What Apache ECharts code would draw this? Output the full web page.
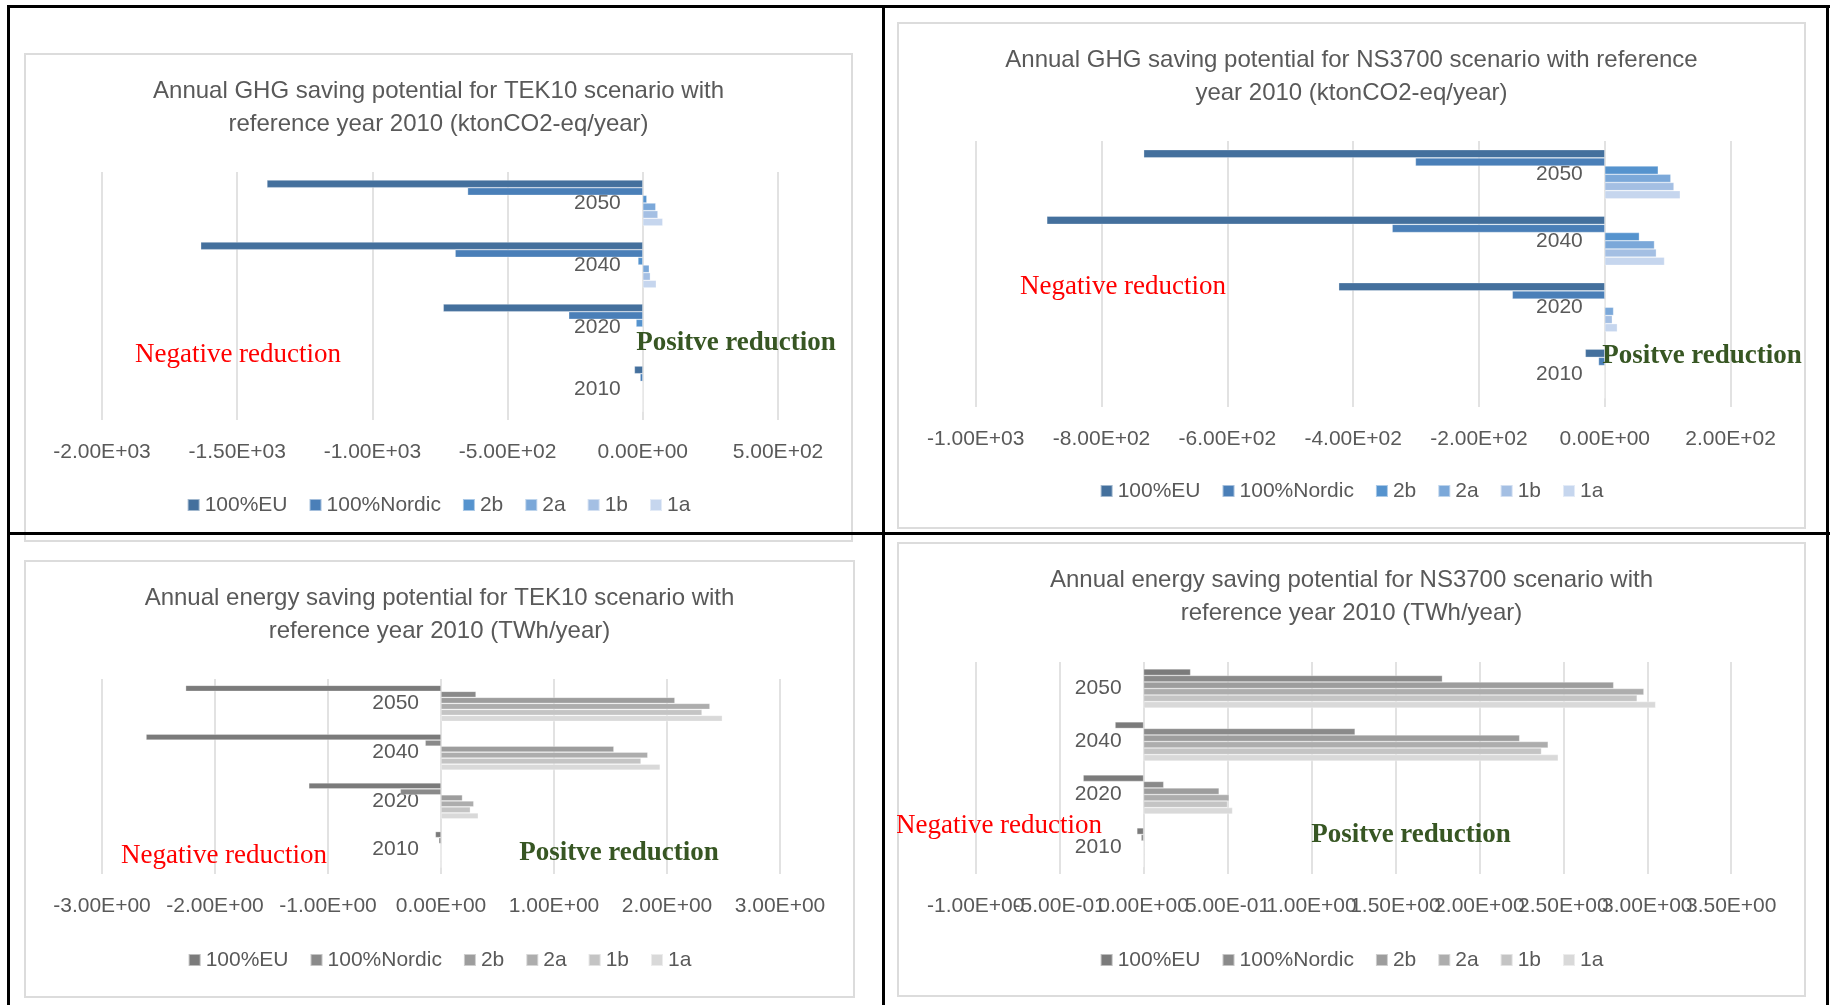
<!DOCTYPE html>
<html>
<head>
<meta charset="utf-8">
<script src="https://cdn.jsdelivr.net/npm/echarts@6/dist/echarts.min.js"></script>
<style>
  html, body { margin: 0; padding: 0; background: #fff; }
  body { width: 1836px; height: 1005px; position: relative; overflow: hidden; }
  .box { position: absolute; border: 2px solid #dcdcdc; box-sizing: border-box; }
  .chart { position: absolute; }
  .line { position: absolute; background: #000; z-index: 10; }
</style>
</head>
<body>
<div class="line" style="left:7px;top:5px;width:1823px;height:3px"></div>
<div class="line" style="left:7px;top:5px;width:3px;height:1000px"></div>
<div class="line" style="left:1826px;top:5px;width:3px;height:1000px"></div>
<div class="line" style="left:882px;top:5px;width:3px;height:1000px"></div>
<div class="line" style="left:7px;top:532px;width:1823px;height:3px"></div>
<script>
// ---- data ----
const categories = ['2050', '2040', '2020', '2010'];
const seriesNames = ['100%EU', '100%Nordic', '2b', '2a', '1b', '1a'];

// Annual GHG saving potential, TEK10 (ktonCO2-eq/year)
const ghgTek10_EU     = [-1390, -1635, -738, -31];
const ghgTek10_Nordic = [-648, -694, -274, -10];
const ghgTek10_2b     = [15, -18, -25, 0];
const ghgTek10_2a     = [48, 24, -2, 0];
const ghgTek10_1b     = [56, 28, 1, 0];
const ghgTek10_1a     = [74, 50, 2, 0];

// Annual GHG saving potential, NS3700 (ktonCO2-eq/year)
const ghgNs_EU     = [-733, -887, -423, -31];
const ghgNs_Nordic = [-301, -338, -147, -10];
const ghgNs_2b     = [85, 55, 0, 0];
const ghgNs_2a     = [105, 79, 14, 0];
const ghgNs_1b     = [110, 82, 12, 0];
const ghgNs_1a     = [120, 95, 20, 0];

// Annual energy saving potential, TEK10 (TWh/year)
const enTek10_EU     = [-2.26, -2.61, -1.17, -0.05];
const enTek10_Nordic = [0.31, -0.14, -0.36, -0.02];
const enTek10_2b     = [2.07, 1.53, 0.19, 0];
const enTek10_2a     = [2.38, 1.83, 0.29, 0];
const enTek10_1b     = [2.31, 1.77, 0.26, 0];
const enTek10_1a     = [2.49, 1.94, 0.33, 0];

// Annual energy saving potential, NS3700 (TWh/year)
const enNs_EU     = [0.28, -0.17, -0.36, -0.04];
const enNs_Nordic = [1.78, 1.26, 0.12, -0.015];
const enNs_2b     = [2.80, 2.24, 0.45, 0];
const enNs_2a     = [2.98, 2.41, 0.51, 0];
const enNs_1b     = [2.94, 2.37, 0.50, 0];
const enNs_1a     = [3.05, 2.47, 0.53, 0];

// axis ranges (min, max, interval)
const axisGhgTek10 = [-2000, 500, 500];
const axisGhgNs    = [-1000, 200, 200];
const axisEnTek10  = [-3, 3, 1];
const axisEnNs     = [-1, 3.5, 0.5];

const titles = [
  'Annual GHG saving potential for TEK10 scenario with\nreference year 2010 (ktonCO2-eq/year)',
  'Annual GHG saving potential for NS3700 scenario with reference\nyear 2010 (ktonCO2-eq/year)',
  'Annual energy saving potential for TEK10 scenario with\nreference year 2010 (TWh/year)',
  'Annual energy saving potential for NS3700 scenario with\nreference year 2010 (TWh/year)'
];
const negText = 'Negative reduction';
const posText = 'Positve reduction';

// ---- styles / layout ----
const blues = ['#44709d', '#4a7fb8', '#5593ce', '#7ba8d9', '#a4bfe3', '#c6d6ee'];
const grays = ['#7b7b7b', '#8a8a8a', '#9d9d9d', '#adadad', '#c4c4c4', '#d9d9d9'];
const TXT = '#595959';
const FONT = '"Liberation Sans", Arial, sans-serif';

const panels = [
  { rect: [24, 53, 829, 489], grid: [78, 75, 119, 122], legendY: 452, neg: [214, 302], pos: [712, 290],
    axis: axisGhgTek10, colors: blues, title: titles[0],
    data: [ghgTek10_EU, ghgTek10_Nordic, ghgTek10_2b, ghgTek10_2a, ghgTek10_1b, ghgTek10_1a] },
  { rect: [897, 22, 909, 507], grid: [78.7, 75.4, 119, 122], legendY: 469, neg: [226, 265], pos: [805, 334],
    axis: axisGhgNs, colors: blues, title: titles[1],
    data: [ghgNs_EU, ghgNs_Nordic, ghgNs_2b, ghgNs_2a, ghgNs_1b, ghgNs_1a] },
  { rect: [24, 560, 831, 438], grid: [78, 75, 119, 124], legendY: 400, neg: [200, 296], pos: [595, 293],
    axis: axisEnTek10, colors: grays, title: titles[2],
    data: [enTek10_EU, enTek10_Nordic, enTek10_2b, enTek10_2a, enTek10_1b, enTek10_1a] },
  { rect: [897, 542, 909, 455], grid: [78.7, 74.8, 120, 123], legendY: 418, neg: [102, 284], pos: [514, 293],
    axis: axisEnNs, colors: grays, title: titles[3],
    data: [enNs_EU, enNs_Nordic, enNs_2b, enNs_2a, enNs_1b, enNs_1a] }
];

function sci(v) {
  const s = Number(v).toExponential(2).toUpperCase();
  return s.replace(/E([+-])(\d+)$/, function (m, sign, d) {
    return 'E' + sign + (d.length < 2 ? '0' + d : d);
  });
}

function valueAxis(p, parity) {
  // two value axes sharing the grid: one labels even ticks, the other odd ticks
  return {
    type: 'value', position: 'bottom', min: p.axis[0], max: p.axis[1], interval: p.axis[2],
    axisLine: { show: false, onZero: false }, axisTick: { show: false },
    splitLine: { show: parity === 0, lineStyle: { color: '#d9d9d9', width: 1.5 } },
    axisLabel: {
      formatter: function (v) {
        const idx = Math.round((v - p.axis[0]) / p.axis[2]);
        return idx % 2 === parity ? sci(v) : '';
      },
      fontFamily: FONT, fontSize: 21, color: TXT, margin: 21.5,
      showMinLabel: true, showMaxLabel: true, hideOverlap: false
    }
  };
}

panels.forEach(function (p) {
  const box = document.createElement('div');
  box.className = 'box';
  box.style.left = p.rect[0] + 'px'; box.style.top = p.rect[1] + 'px';
  box.style.width = p.rect[2] + 'px'; box.style.height = p.rect[3] + 'px';
  document.body.appendChild(box);
  const el = document.createElement('div');
  el.className = 'chart';
  el.style.left = p.rect[0] + 'px'; el.style.top = p.rect[1] + 'px';
  el.style.width = p.rect[2] + 'px'; el.style.height = p.rect[3] + 'px';
  document.body.appendChild(el);

  const chart = echarts.init(el, null, { renderer: 'canvas' });
  chart.setOption({
    animation: false,
    color: p.colors,
    title: {
      text: p.title, left: p.rect[2] / 2, top: 21.5, padding: 0,
      textAlign: 'center',
      textStyle: { fontFamily: FONT, fontSize: 24, fontWeight: 'normal', color: TXT, lineHeight: 33 }
    },
    legend: {
      data: seriesNames, left: 'center', top: p.legendY - 10.5, padding: 0,
      icon: 'rect', itemWidth: 12, itemHeight: 12, itemGap: 21,
      textStyle: { fontFamily: FONT, fontSize: 21, color: TXT }
    },
    grid: { left: p.grid[0], right: p.grid[1], top: p.grid[2], bottom: p.grid[3], containLabel: false },
    xAxis: [valueAxis(p, 0), valueAxis(p, 1)],
    yAxis: {
      type: 'category', data: categories, inverse: true,
      axisLine: { show: false, onZero: false },
      axisTick: { show: false },
      splitLine: { show: false },
      axisLabel: { fontFamily: FONT, fontSize: 21, color: TXT, margin: 22 }
    },
    series: seriesNames.map(function (name, i) {
      return {
        name: name, type: 'bar', data: p.data[i], xAxisIndex: 0, yAxisIndex: 0,
        barGap: '0%', barCategoryGap: '26%',
        itemStyle: { color: p.colors[i], borderColor: 'rgba(255,255,255,0.5)', borderWidth: 0.6 }
      };
    }),
    graphic: [
      { type: 'text', x: p.neg[0], y: p.neg[1], z: 100,
        style: { text: negText, fill: '#ff0000', font: '27px "Liberation Serif", "Times New Roman", serif',
                 textAlign: 'center', textVerticalAlign: 'middle', align: 'center', verticalAlign: 'middle' } },
      { type: 'text', x: p.pos[0], y: p.pos[1], z: 100,
        style: { text: posText, fill: '#375623', font: 'bold 27px "Liberation Serif", "Times New Roman", serif',
                 textAlign: 'center', textVerticalAlign: 'middle', align: 'center', verticalAlign: 'middle' } }
    ]
  });
  // put the category labels next to the zero line (via the value scale)
  const zeroX = chart.convertToPixel({ xAxisIndex: 0 }, 0);
  const gridLeft = chart.convertToPixel({ xAxisIndex: 0 }, p.axis[0]);
  chart.setOption({ yAxis: { offset: -(zeroX - gridLeft) } });
});
</script>
</body>
</html>
